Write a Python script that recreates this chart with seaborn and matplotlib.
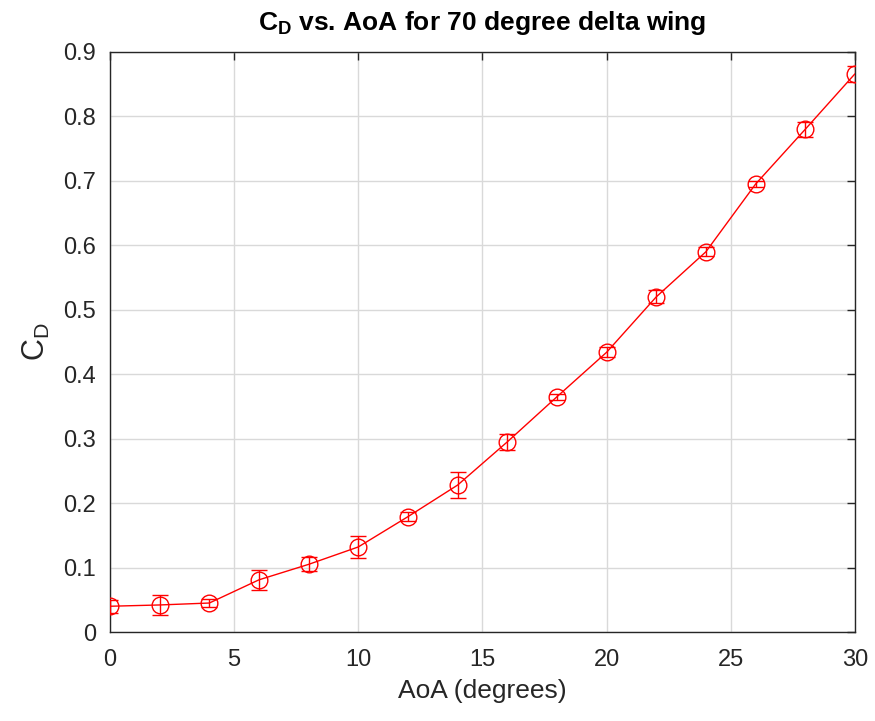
import numpy as np
import pandas as pd
import matplotlib
matplotlib.use("Agg")
import matplotlib.pyplot as plt
import seaborn as sns

# --- Data ---
aoa = [0, 2, 4, 6, 8, 10, 12, 14, 16, 18, 20, 22, 24, 26, 28, 30]
cd = [0.040, 0.042, 0.045, 0.081, 0.105, 0.132, 0.179, 0.228, 0.295, 0.365,
      0.434, 0.520, 0.590, 0.695, 0.780, 0.866]
cd_err = [0.010, 0.015, 0.006, 0.016, 0.011, 0.017, 0.007, 0.020, 0.012, 0.005,
          0.008, 0.010, 0.007, 0.005, 0.012, 0.012]
x_ticks = [0, 5, 10, 15, 20, 25, 30]
y_ticks = [0, 0.1, 0.2, 0.3, 0.4, 0.5, 0.6, 0.7, 0.8, 0.9]

df = pd.DataFrame({"AoA": aoa, "CD": cd, "err": cd_err})

sns.set_style("whitegrid")
plt.rcParams['font.family'] = ['Liberation Sans', 'DejaVu Sans']
plt.rcParams['mathtext.fontset'] = 'custom'
plt.rcParams['mathtext.rm'] = 'Liberation Sans'
plt.rcParams['mathtext.bf'] = 'Liberation Sans:bold'

fig = plt.figure(figsize=(8.75, 7.21), dpi=100)
ax = fig.add_axes([0.1257, 0.1234, 0.977 - 0.1257, 0.9279 - 0.1234])

ax.errorbar(df["AoA"], df["CD"], yerr=df["err"], fmt='none', ecolor='red',
            elinewidth=1.0, capsize=6, capthick=1.0, zorder=3)
sns.lineplot(data=df, x="AoA", y="CD", ax=ax, color='red', linewidth=1.0,
             marker='o', markersize=12, markerfacecolor='none',
             markeredgecolor='red', markeredgewidth=1.0, zorder=4)

ax.set_xlim(0, 30)
ax.set_ylim(0, 0.9)
ax.set_xticks(x_ticks)
ax.set_yticks(y_ticks)
ax.set_yticklabels(["0"] + [f"{v:.1f}" for v in y_ticks[1:]])

ax.grid(True, color='#d9d9d9', linewidth=1.0)
for s in ax.spines.values():
    s.set_visible(True)
    s.set_color('#262626')
    s.set_linewidth(1.0)
ax.tick_params(direction='in', length=6, width=1.0, colors='#262626',
               labelsize=17, top=True, right=True, labelcolor='#262626')
ax.tick_params(axis='x', pad=12)
ax.tick_params(axis='y', pad=10)

ax.set_xlabel("AoA (degrees)", fontsize=19, color='#262626', labelpad=6)
ax.set_ylabel(r"C$_\mathregular{D}$", fontsize=22, color='#262626', labelpad=8)
ax.set_title(r"$\mathbf{C_D}$ vs. AoA for 70 degree delta wing",
             fontsize=19, fontweight='bold', color='black', pad=16)

fig.savefig("out.png", dpi=100, facecolor='white')
